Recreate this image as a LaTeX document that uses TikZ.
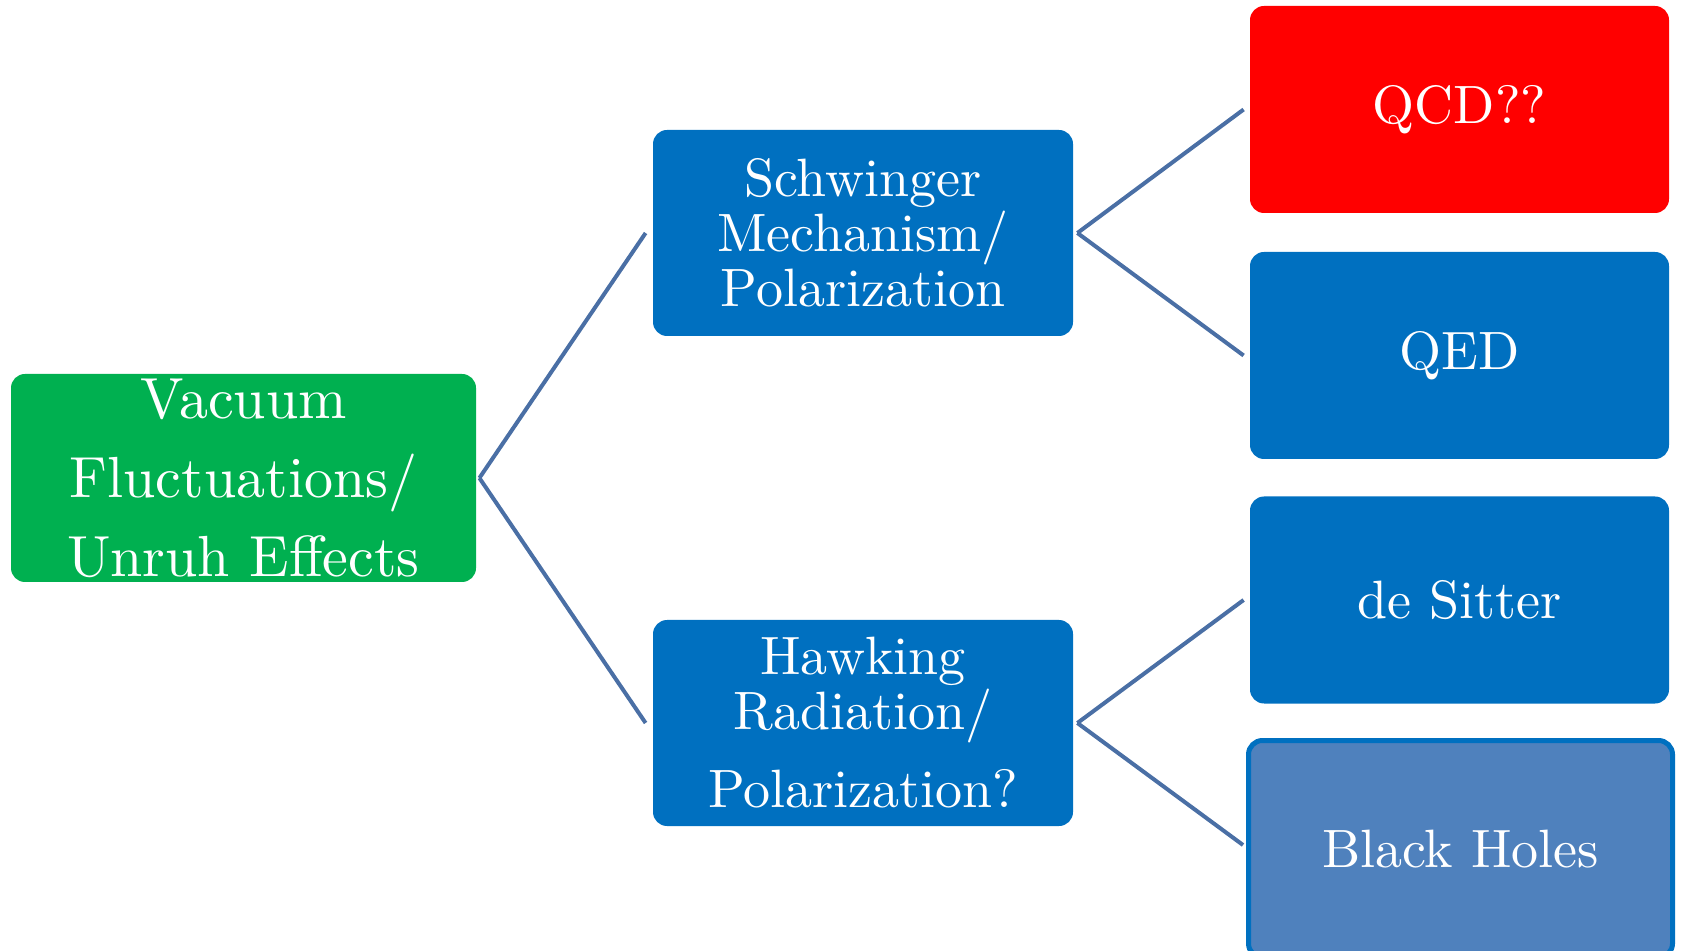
\documentclass[tikz,border=0pt]{standalone}
\usepackage{fontspec}
\setmainfont{lmroman10-regular.otf}
\definecolor{cgreen}{HTML}{00B050}
\definecolor{cblue}{HTML}{0070C0}
\definecolor{cred}{HTML}{FF0000}
\definecolor{cbh}{HTML}{4F81BD}
\definecolor{cconn}{HTML}{4A6FA5}
\begin{document}
\begin{tikzpicture}[x=0.5pt,y=-0.5pt,
  box/.style={rectangle,rounded corners=7pt,inner sep=0pt,text=white,align=center,
    font=\fontsize{27}{27.5}\selectfont},
  midbox/.style={box,fill=cblue,minimum width=210pt,minimum height=103pt},
  leafbox/.style={box,minimum width=209.5pt,minimum height=103.5pt},
  conn/.style={draw=cconn,line width=2pt}]
\useasboundingbox (0,0) rectangle (1681,951);
\node[box,fill=cgreen,minimum width=232.5pt,minimum height=104pt,
  font=\fontsize{29}{39.5}\selectfont] (g) at (243.5,478) {Vacuum\\Fluctuations/\\Unruh Effects};
\node[midbox] (s) at (863,233) {Schwinger\\Mechanism/\\Polarization};
\node[midbox] (h) at (863,723) {Hawking\\Radiation/\\[11.5pt]Polarization?};
\node[leafbox,fill=cred] (qcd) at (1459.5,109.5) {QCD??};
\node[leafbox,fill=cblue] (qed) at (1459.5,355.5) {QED};
\node[leafbox,fill=cblue] (ds) at (1459.5,600) {de Sitter};
\node[box,fill=cbh,draw=cblue,line width=2.5pt,minimum width=212pt,minimum height=108.5pt] (bh) at (1460.5,849) {Black Holes};
\draw[conn] ([xshift=1.5pt]g.east) -- ([xshift=-3.5pt]s.west);
\draw[conn] ([xshift=1.5pt]g.east) -- ([xshift=-3.5pt]h.west);
\draw[conn] ([xshift=2pt]s.east) -- ([xshift=-3pt]qcd.west);
\draw[conn] ([xshift=2pt]s.east) -- ([xshift=-3pt]qed.west);
\draw[conn] ([xshift=2pt]h.east) -- ([xshift=-3pt]ds.west);
\draw[conn] ([xshift=2pt]h.east) -- ([xshift=-1.5pt,yshift=2pt]bh.west);
\end{tikzpicture}
\end{document}
